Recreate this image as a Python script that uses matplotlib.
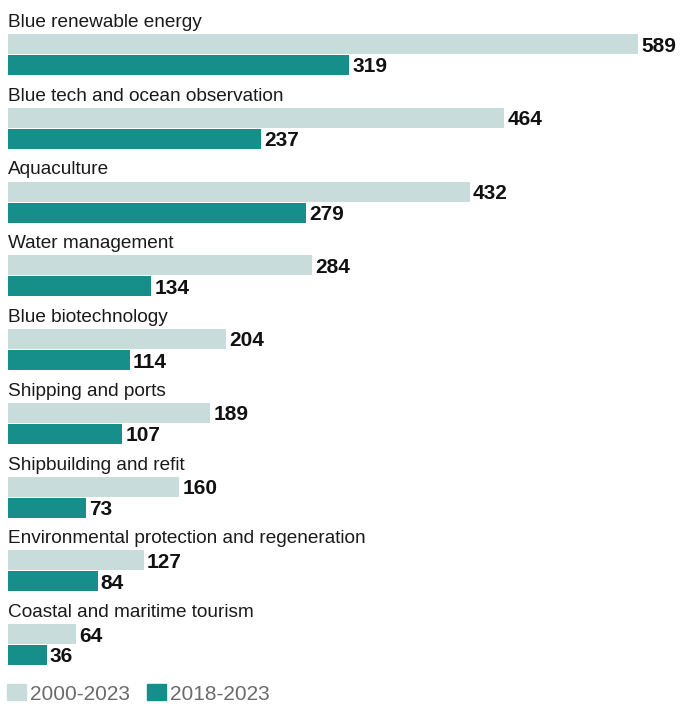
import matplotlib.pyplot as plt
from matplotlib.patches import Patch

plt.rcParams['font.family'] = ['Liberation Sans', 'DejaVu Sans']

categories = ["Blue renewable energy", "Blue tech and ocean observation", "Aquaculture",
              "Water management", "Blue biotechnology", "Shipping and ports",
              "Shipbuilding and refit", "Environmental protection and regeneration",
              "Coastal and maritime tourism"]
total_2000_2023 = [589, 464, 432, 284, 204, 189, 160, 127, 64]
recent_2018_2023 = [319, 237, 279, 134, 114, 107, 73, 84, 36]
series_labels = ["2000-2023", "2018-2023"]

light = "#c9dcdc"
teal = "#168f8a"

W, H = 680, 704
fig = plt.figure(figsize=(W / 100, H / 100), dpi=100)
ax = fig.add_axes([0, 0, 1, 1])

# map pixels to values: bar starts at x=8px, 589 ends at 638px
scale = 630 / 589
ax.set_xlim(-8 / scale, (W - 8) / scale)
ax.set_ylim(H, 0)
ax.axis('off')

step = 73.75
for i, cat in enumerate(categories):
    top = 34 + step * i
    y1 = top + 10
    y2 = top + 31
    ax.barh(y1, total_2000_2023[i], height=20, color=light, left=0)
    ax.barh(y2, recent_2018_2023[i], height=20, color=teal, left=0)
    ax.text(0, top - 7, cat, fontsize=13.7, color="#1a1a1a", va='baseline', ha='left')
    ax.text(total_2000_2023[i] + 3 / scale, y1 + 7.5, str(total_2000_2023[i]),
            fontsize=15, fontweight='bold', color="#111111", va='baseline')
    ax.text(recent_2018_2023[i] + 3 / scale, y2 + 7.5, str(recent_2018_2023[i]),
            fontsize=15, fontweight='bold', color="#111111", va='baseline')

handles = [Patch(color=light, label=series_labels[0]), Patch(color=teal, label=series_labels[1])]
leg = fig.legend(handles=handles, loc='lower left', bbox_to_anchor=(7 / W, 0.0), ncol=2,
                 frameon=False, fontsize=15, handlelength=0.87, handleheight=0.82,
                 handletextpad=0.2, columnspacing=0.85, borderpad=0, borderaxespad=0.02)
for t in leg.get_texts():
    t.set_color("#6b6b6b")

fig.savefig("out.png", dpi=100)
